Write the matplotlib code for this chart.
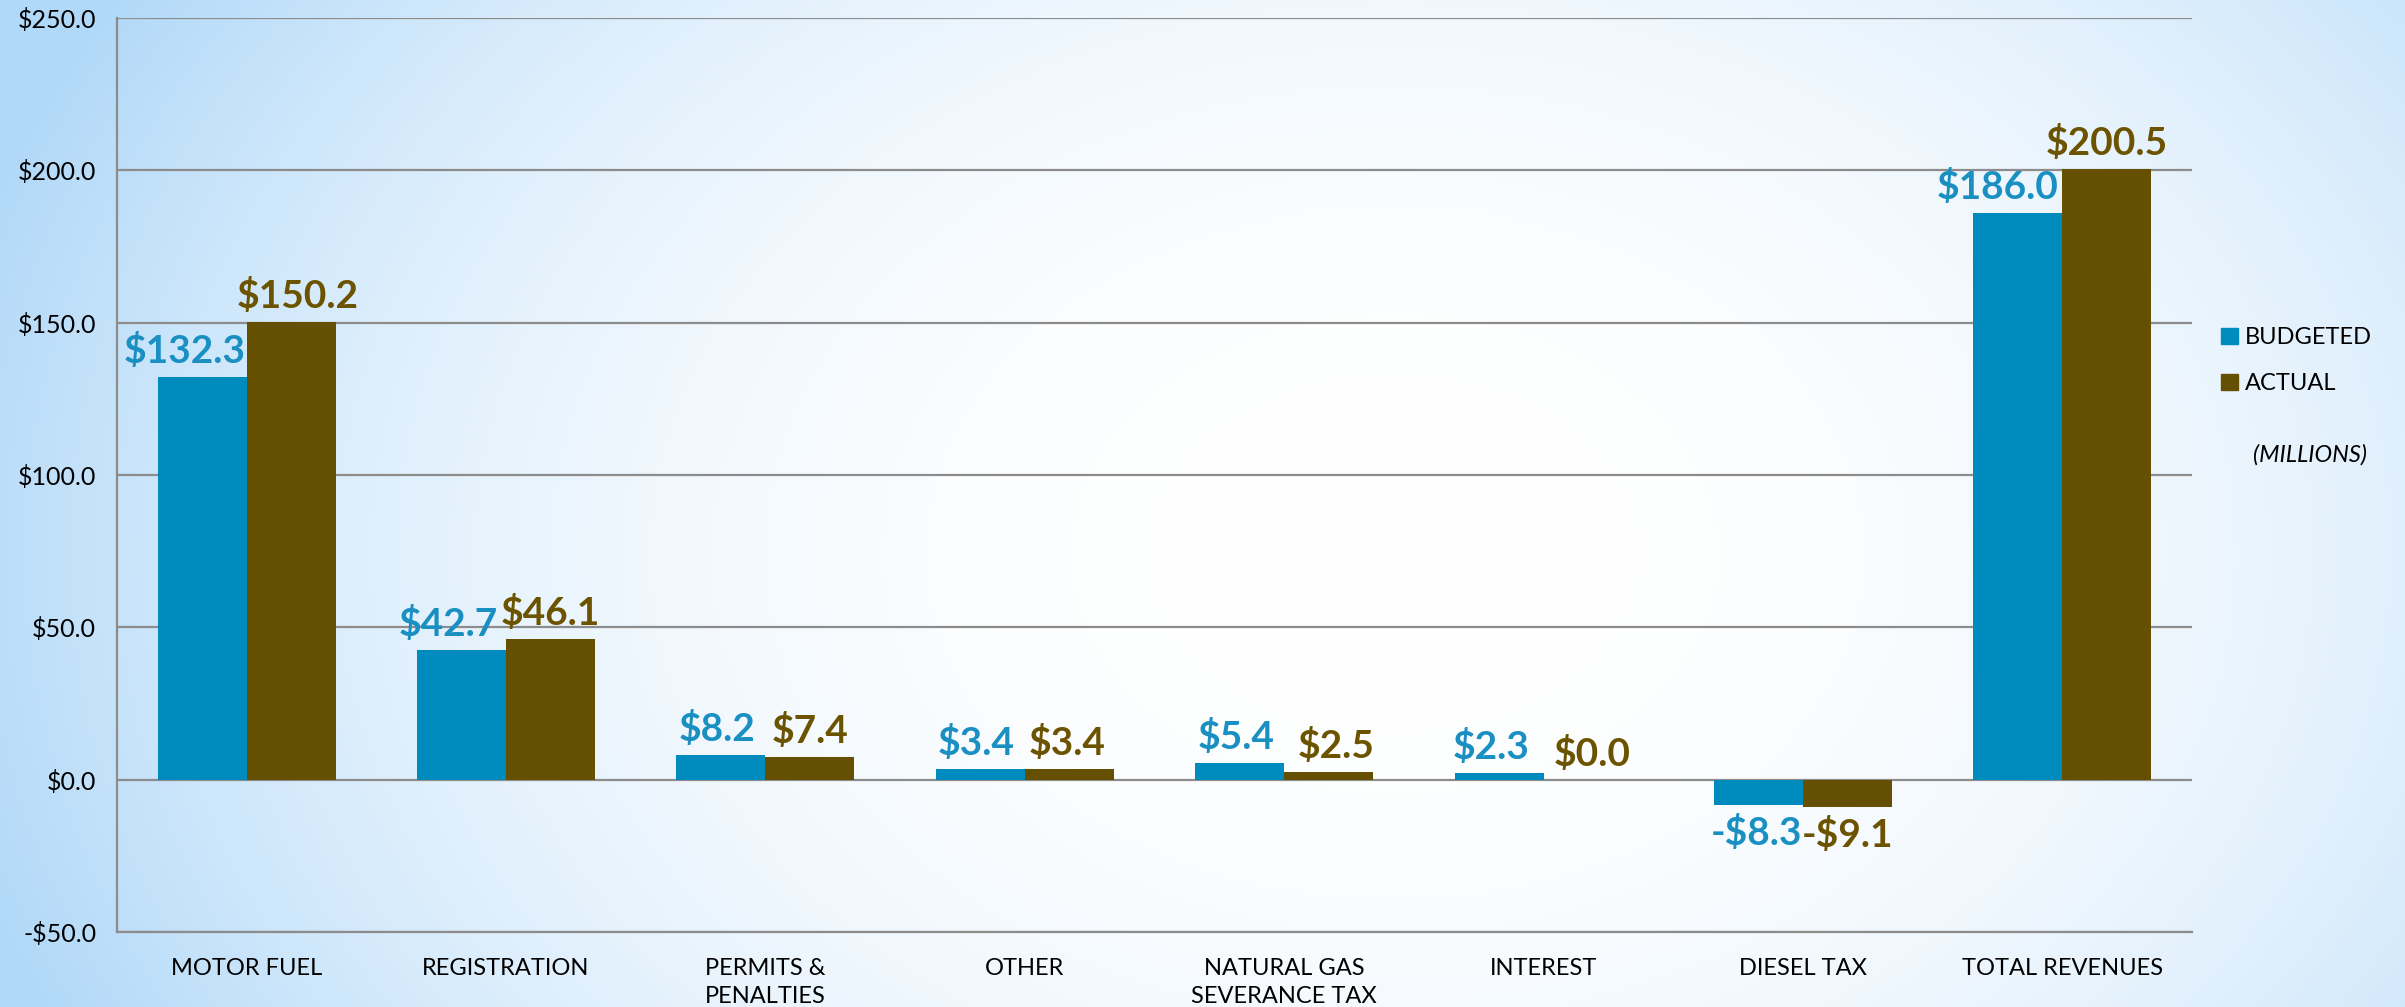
import numpy as np
import matplotlib
matplotlib.use('Agg')
import matplotlib.pyplot as plt
from matplotlib.patches import Patch

categories = ['MOTOR FUEL', 'REGISTRATION', 'PERMITS &\nPENALTIES', 'OTHER',
              'NATURAL GAS\nSEVERANCE TAX', 'INTEREST', 'DIESEL TAX', 'TOTAL REVENUES']
budgeted = [132.3, 42.7, 8.2, 3.4, 5.4, 2.3, -8.3, 186.0]
actual = [150.2, 46.1, 7.4, 3.4, 2.5, 0.0, -9.1, 200.5]
series_names = ['BUDGETED', 'ACTUAL']
yticks = [-50, 0, 50, 100, 150, 200, 250]

# layout nudges for data labels (pixels), mimicking the original label placement
nudge_b = [-18, -13, -4, -4, -4, -8, -2, -20]
nudge_a = [7, 0, 0, -2, 7, 4, 0, 0]

c_b = '#008BBE'
c_a = '#654F00'
lbl_b = '#1A8FC2'
lbl_a = '#6B5300'

plt.rcParams['font.family'] = ['Lato', 'DejaVu Sans']

W, H = 2405, 1007
fig = plt.figure(figsize=(W / 100, H / 100), dpi=100)

# background gradient
bg = fig.add_axes([0, 0, 1, 1], zorder=-10)
ny, nx = 250, 600
yy, xx = np.mgrid[0:1:ny * 1j, 0:1:nx * 1j]
r = np.sqrt(((xx - 0.58) / 0.62) ** 2 + ((yy - 0.45) / 1.1) ** 2)
t = np.clip(r, 0, 1) ** 2.4
edge = np.array([176, 216, 248]) / 255.0
img = (1 - t)[..., None] * np.ones(3) + t[..., None] * edge
bg.imshow(img, aspect='auto', extent=[0, 1, 0, 1], origin='lower')
bg.axis('off')

ax = fig.add_axes([117 / W, (H - 932) / H, (2192 - 117) / W, (932 - 18) / H])
ax.patch.set_alpha(0)

x = np.arange(len(categories))
bw = 0.343
bars_b = ax.bar(x - bw / 2, budgeted, bw, color=c_b, zorder=3)
bars_a = ax.bar(x + bw / 2, actual, bw, color=c_a, zorder=3)

ax.set_xlim(-0.5, len(categories) - 0.5)
ax.set_ylim(-50, 250)
ax.set_yticks(yticks)
ax.set_yticklabels([('-$%.1f' % abs(v)) if v < 0 else ('$%.1f' % v) for v in yticks],
                   fontsize=18)
ax.tick_params(axis='y', length=0, pad=15)
ax.set_xticks(x)
ax.set_xticklabels(categories, fontsize=17, linespacing=1.4)
ax.tick_params(axis='x', length=0, pad=19)
ax.grid(axis='y', color='#8c8c8c', lw=1.6, zorder=1)
ax.set_axisbelow(True)
for s in ['top', 'right']:
    ax.spines[s].set_visible(False)
for s in ['left', 'bottom']:
    ax.spines[s].set_color('#8c8c8c')
    ax.spines[s].set_linewidth(1.6)

def fmt(v):
    return ('-$%.1f' % abs(v)) if v < 0 else ('$%.1f' % v)

def label(bars, vals, nudges, col):
    for b, v, n in zip(bars, vals, nudges):
        xc = b.get_x() + b.get_width() / 2
        if v < 0:
            off = -40
        else:
            off = 14
        ax.annotate(fmt(v), (xc, v), xytext=(n * 0.72, off * 0.72),
                    textcoords='offset points', ha='center', va='baseline',
                    fontsize=28, fontweight='bold', color=col, zorder=5)

label(bars_b, budgeted, nudge_b, lbl_b)
label(bars_a, actual, nudge_a, lbl_a)

handles = [Patch(color=c_b), Patch(color=c_a)]
leg = fig.legend(handles, series_names, loc='upper left',
                 bbox_to_anchor=(2212 / W, 1 - 318 / H), frameon=False,
                 fontsize=17, handlelength=0.7, handleheight=0.7,
                 handletextpad=0.3, labelspacing=1.05, borderaxespad=0)
fig.text(2253 / W, 1 - 455 / H, '(MILLIONS)', fontsize=17, style='italic',
         va='center', ha='left')

fig.savefig('out.png', dpi=100)
